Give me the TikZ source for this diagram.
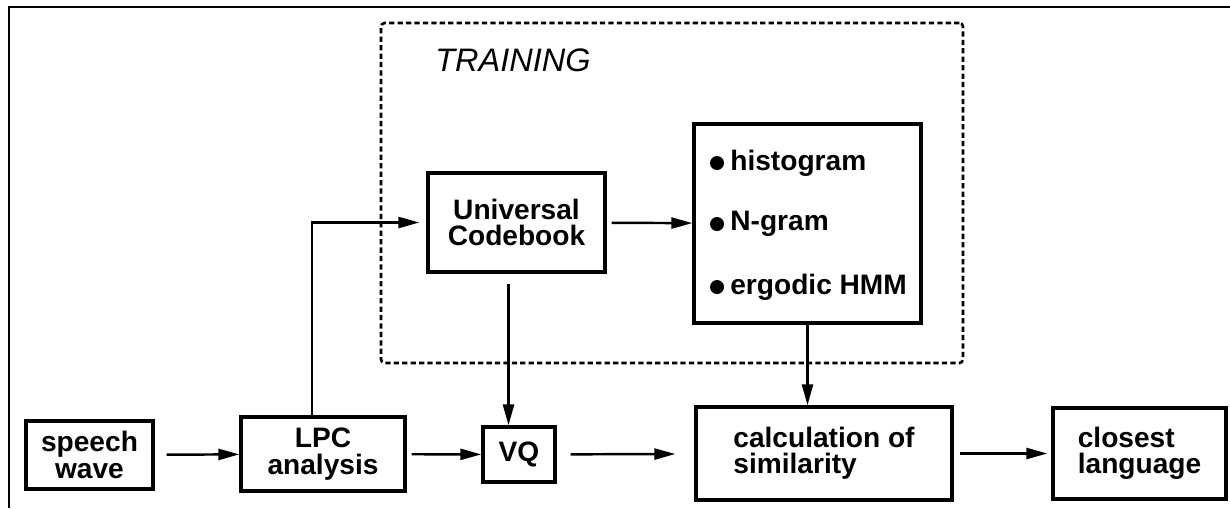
\documentclass[tikz,border=0pt]{standalone}
\usepackage{fontspec}
\setmainfont{Liberation Sans}
\usetikzlibrary{positioning,arrows.meta}

\begin{document}
\begin{tikzpicture}[x=0.02cm, y=-0.02cm,
  font=\bfseries\fontsize{16}{15}\selectfont,
  blockbox/.style={rectangle, draw, line width=1.9pt, inner sep=0pt, align=center},
  flow/.style={-{Triangle[length=0.42cm,width=0.22cm]}, line width=1.4pt},
  item/.style={anchor=west, inner sep=0pt}]
\useasboundingbox (0,0) rectangle (1230,508);

% outer frame (only top and left edges show)
\draw[line width=1.6pt] (9,508) -- (9,7) -- (1230,7);

% training area
\node[draw, line width=1.5pt, dash pattern=on 3pt off 1.8pt, rounded corners=2pt,
      minimum width=11.64cm, minimum height=6.8cm] (training) at (672,193) {};
\node[font=\itshape\fontsize{18.5}{20}\selectfont] (traininglabel) at (513,60) {TRAINING};

% blocks
\node[blockbox, minimum width=2.54cm, minimum height=1.36cm] (speech) at (89.5,455) {speech\\wave};
\node[blockbox, minimum width=3.28cm, minimum height=1.48cm] (lpc) at (323,454) {LPC\\analysis};
\node[blockbox, minimum width=1.44cm, minimum height=1.1cm] (vq) at (519,454.5) {VQ};
\node[blockbox, align=left, minimum width=5.12cm, minimum height=1.86cm] (calc) at (824,453.5) {calculation of\\similarity};
\node[blockbox, align=left, minimum width=3.46cm, minimum height=1.82cm] (closest) at (1139.5,453.5) {closest\\language};
\node[blockbox, minimum width=3.54cm, minimum height=1.98cm] (codebook) at (516.5,222.5) {Universal\\Codebook};
\node[blockbox, minimum width=4.54cm, minimum height=3.98cm] (models) at (807.5,223.5) {};

% model list
\foreach \name/\ypos/\txt in {hist/163/histogram, ngram/224/N-gram, hmm/287/ergodic HMM} {
  \fill (717,\ypos) circle (0.14cm);
  \node[item] (\name) at (730,\ypos) {\txt};
}

% connections
\draw[flow, shorten <=0.24cm] (speech) -- (lpc);
\draw[flow, shorten <=0.1cm] (lpc) -- (vq);
\draw[flow, shorten <=0.28cm, shorten >=0.38cm] (vq) -- (calc);
\draw[flow, shorten <=0.12cm, shorten >=0.08cm] (calc) -- (closest);
\draw[flow, shorten >=0.14cm] ([xshift=-0.22cm]lpc.north) |- (codebook.west);
\draw[flow, shorten <=0.1cm] (codebook) -- (models);
\draw[flow, shorten <=0.2cm] ([xshift=-0.16cm]codebook.south) -- ([xshift=-0.16cm]codebook.south |- vq.north);
\draw[flow] (models) -- (models |- calc.north);
\end{tikzpicture}
\end{document}
